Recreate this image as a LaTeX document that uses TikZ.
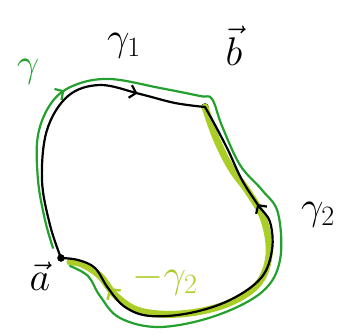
\RequirePackage{fix-cm}
\documentclass[tikz,border=0pt]{standalone}
\usepackage{amssymb}
\usepackage{tikz}
\usetikzlibrary{arrows.meta,decorations.markings,positioning}
\definecolor{myGreen}{RGB}{35,160,45}
\definecolor{myYellow}{RGB}{170,205,40}
\tikzset{
myPoint/.style={
	circle,fill=black,draw=black,
	inner sep=0pt,minimum size=7pt
}
, myLabel/.style={
	inner sep=0pt, text=black,
	font=\fontsize{40}{42}\selectfont
}
% curves
, myCurve/.style={black,line width=2.2pt,line cap=round,line join=round}
, myGamma/.style={myGreen,line width=2.2pt,line cap=round,line join=round}
, myMinus/.style={myYellow,line width=7pt,line cap=round,line join=round}
, myArrowAt/.style={
	postaction={decorate},
	decoration={markings,
		mark=at position #1 with {\arrow{Straight Barb[length=6pt,width=13pt]}}}
}
, myThinArrowAt/.style={
	postaction={decorate},
	decoration={markings,
		mark=at position #1 with {\arrow{Straight Barb[length=7pt,width=16pt,line width=2.5pt]}}}
}
}

\begin{document}
\begin{tikzpicture}[x=1pt,y=-1pt]
	\useasboundingbox (0,0) rectangle (347,334);
	% points
	\node[myPoint] (a) at (61,258) {};
	\node[myPoint] (b) at (205,107) {};
	% labels
	\node[myLabel] (aLabel) at (40,276) {$\vec{a}$};
	\node[myLabel] (bLabel) at (234,46) {$\vec{b}$};
	\node[myLabel] (g1Label) at (124,46) {$\gamma_1$};
	\node[myLabel] (g2Label) at (318,215) {$\gamma_2$};
	\node[myLabel,text=myGreen] (gLabel) at (28,72) {$\gamma$};
	\node[myLabel,text=myYellow] (mg2Label) at (165,280) {$-\gamma_2$};

	% -gamma_2 (underneath)
	\draw [myMinus,myThinArrowAt=0.88] plot[smooth,tension=0.6] coordinates {
		(b.center) (216,138) (231,168) (249,193) (264,220) (269,255)
		(257,285) (224,305) (180,314) (140,311) (116,296) (100,276)
		(82,264) (70,262)};
	% gamma (green, outside)
	\draw [myGamma,myArrowAt=0.22] plot[smooth,tension=0.6] coordinates {
		(53,248) (45,220) (38,180) (38,135) (52,102) (75,85) (110,79)
		(160,88) (200,96) (212,99) (222,126) (240,165) (262,190) (278,213)
		(280,260) (262,292) (215,316) (160,327) (120,318) (100,296)
		(88,276) (70,266)};
	% gamma_1
	\draw [myCurve,myArrowAt=0.78] plot[smooth,tension=0.6] coordinates {
		(a.center) (50,225) (42,180) (47,130) (68,96) (100,85) (140,94)
		(175,103) (b.center)};
	% gamma_2
	\draw [myCurve,myArrowAt=0.74] plot[smooth,tension=0.6] coordinates {
		(a.center) (78,260) (95,268) (108,288) (125,307) (150,316) (190,313)
		(230,300) (261,278) (272,250) (270,222) (258,205) (242,180)
		(228,150) (215,125) (b.center)};
\end{tikzpicture}
\end{document}
